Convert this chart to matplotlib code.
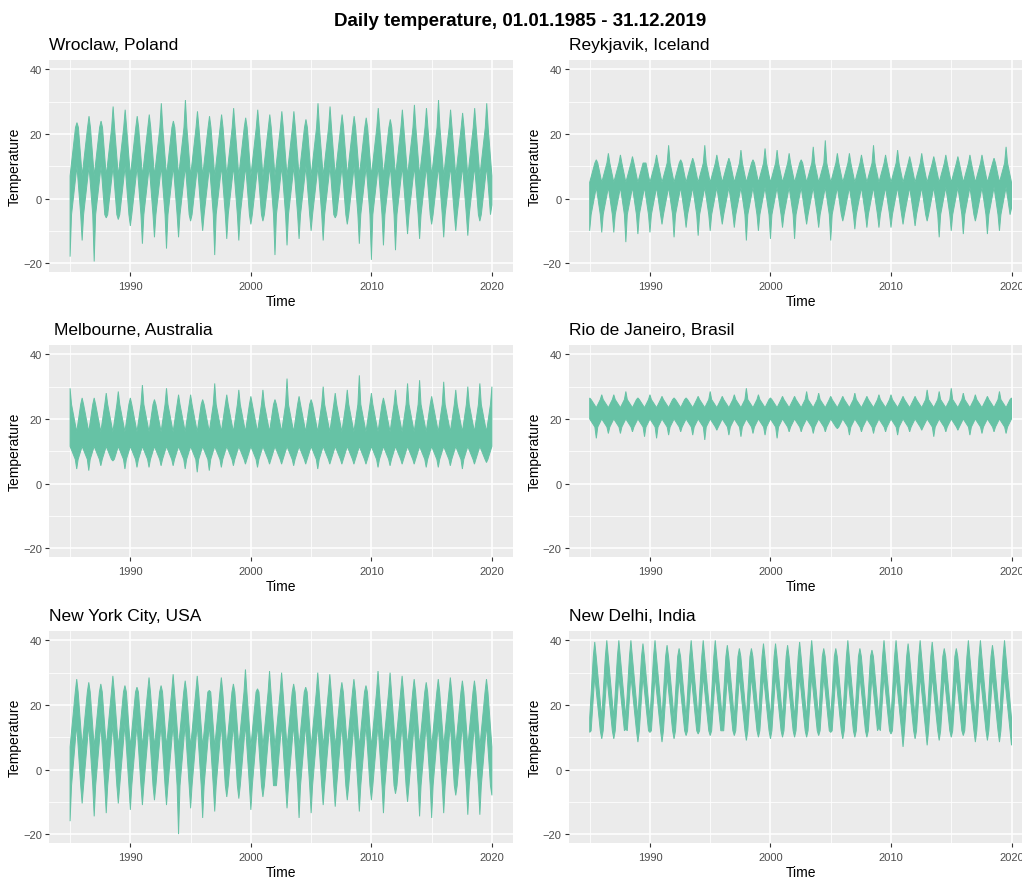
import numpy as np
import matplotlib.pyplot as plt

# DATOS (extremos de cada año y niveles típicos)
years = np.arange(1985, 2020)
end_year = 2020

# Wroclaw: máximo de verano (35) y mínimo de invierno (enero de 1985..2020)
wroclaw_summer_max = [23.5, 25.5, 24, 28.5, 27.5, 25.5, 26, 29.5, 24, 30.5,
                      27, 25.5, 26, 28, 25, 27.5, 26, 27, 27, 24.5,
                      29.5, 28.5, 26, 25.5, 25, 28, 24.5, 27.5, 29, 28,
                      30.5, 27.5, 26.5, 28, 29.5]
wroclaw_winter_min = [-18, -13, -19.5, -6, -6.5, -8.5, -14, -12, -15.5, -12,
                      -7, -10, -17.5, -12.5, -13, -8, -7, -17.5, -14.5, -12.5,
                      -10, -13, -6, -8, -14, -19, -14.5, -16, -11, -12.5,
                      -8, -12, -10, -11.5, -7, -2]
# niveles típicos: [techo invierno, suelo invierno, techo verano, suelo verano]
wroclaw_levels = [7, -5, 22, 10]

reykjavik_summer_max = [12, 14, 13.5, 13, 11, 13.5, 16.5, 12, 12.5, 16.5,
                        13.5, 12.5, 15, 12, 15.5, 15, 14, 12, 16, 18,
                        14, 14, 13.5, 16.5, 13.5, 15, 13, 14, 13, 13.5,
                        13, 13.5, 13.5, 12.5, 16]
reykjavik_winter_min = [-10, -10.5, -10.5, -13.5, -11, -10.5, -8, -12, -9, -11.5,
                        -10, -8, -9, -13, -10, -12.5, -9, -12.5, -8, -9,
                        -13, -7, -9.5, -9, -9, -9, -8, -8.5, -7, -12,
                        -10, -11, -7, -11, -10, -3]
reykjavik_levels = [5, -5, 11, 3.5]

# Hemisferio sur: verano en enero
melbourne_summer_max = [29.5, 26.5, 26.5, 28, 28.5, 26.5, 30.5, 26, 29.5, 27.5,
                        27.5, 26, 31, 27.5, 29, 27, 29, 26, 32.5, 27,
                        26, 30, 28, 29, 33.5, 28, 26.5, 29, 31, 32,
                        27, 31.5, 29, 30, 31, 30]
melbourne_winter_min = [4.5, 4, 5.5, 7, 4.5, 5, 5, 5.5, 5.5, 4.5,
                        3.5, 4, 5, 5.5, 6, 5, 6, 6, 5.5, 6,
                        4.5, 6, 6, 6, 6, 5, 5.5, 6, 6, 5,
                        5, 5.5, 4.5, 6, 6.5]
melbourne_levels = [16, 7.5, 24.5, 11.5]

rio_summer_max = [26.5, 27.5, 27.5, 28.5, 26.5, 27.5, 27, 26.5, 26.5, 27,
                  28.5, 27, 27.5, 29.5, 27.5, 26.5, 27, 27, 28.5, 28,
                  27, 27, 28, 27, 27.5, 27.5, 27, 27, 29, 28.5,
                  29.5, 28, 27.5, 27, 28.5, 26.5]
rio_winter_min = [14, 15.5, 15.5, 16, 14.5, 14, 15, 16, 15, 13.5,
                  16.5, 15, 14.5, 15.5, 15, 14, 16, 16, 15.5, 16,
                  17, 15, 16, 15.5, 16, 15, 16, 16.5, 14.5, 16,
                  16.5, 15, 15.5, 16, 15.5]
rio_levels = [23.5, 17.5, 26, 20]

nyc_summer_max = [28, 27, 26.5, 29, 26, 25.5, 28.5, 26, 29.5, 27.5,
                  29, 24.5, 28.5, 26.5, 31, 25, 30.5, 30, 26.5, 25.5,
                  30, 29.5, 27, 28, 26, 30.5, 30, 29, 28, 27,
                  28, 28.5, 27.5, 27.5, 28]
nyc_winter_min = [-16, -10.5, -14.5, -13.5, -10.5, -12.5, -11, -9.5, -11, -20,
                  -12, -15, -13, -8.5, -9, -12.5, -8.5, -5, -12, -15,
                  -13.5, -11, -11.5, -9.5, -13, -9.5, -13.5, -7.5, -10, -14.5,
                  -15, -13.5, -8, -14, -14, -8]
nyc_levels = [7, -5, 24, 14]

delhi_summer_max = [39.5, 40, 40, 40, 39, 40, 38.5, 37.5, 40, 40,
                    40, 38.5, 37.5, 37.5, 39, 39, 38.5, 39.5, 40, 37.5,
                    37.5, 40, 37.5, 37, 40, 40, 39, 40, 39.5, 37.5,
                    37.5, 40, 40, 38.5, 40]
delhi_winter_min = [11.5, 9.5, 9.5, 12.5, 8.5, 11.5, 8.5, 9.5, 10.5, 11,
                    10.5, 12, 10.5, 9, 10, 9.5, 10, 10, 10, 10.5,
                    11.5, 9.5, 10, 10, 13, 11, 7, 9.5, 7.5, 9,
                    10, 10.5, 8.5, 9, 8.5, 7.5]
delhi_levels = [16, 12, 35, 29]

titles = ["Wroclaw, Poland", "Reykjavik, Iceland", "Melbourne, Australia",
          "Rio de Janeiro, Brasil", "New York City, USA", "New Delhi, India"]
summer_max = [wroclaw_summer_max, reykjavik_summer_max, melbourne_summer_max,
              rio_summer_max, nyc_summer_max, delhi_summer_max]
winter_min = [wroclaw_winter_min, reykjavik_winter_min, melbourne_winter_min,
              rio_winter_min, nyc_winter_min, delhi_winter_min]
levels = [wroclaw_levels, reykjavik_levels, melbourne_levels,
          rio_levels, nyc_levels, delhi_levels]
south = [False, False, True, True, False, False]
mid_pos = [0.57, 0.55, 0.55, 0.55, 0.55, 0.42]

VERDE = '#66C2A5'
W, H = 1022, 879
D = 0.12  # medio ancho de los picos (años)

plt.rcParams['font.family'] = ['Liberation Sans', 'DejaVu Sans']


def envolvente(edge_vals, mid_vals, body, pico_en_borde, pos):
    # borde = 1 de enero de cada año, medio = año + pos
    edges = np.append(years, end_year)
    edge_vals = np.broadcast_to(np.asarray(edge_vals, float), edges.shape)
    mid_vals = np.broadcast_to(np.asarray(mid_vals, float), years.shape)
    pts = []
    for t, v in zip(edges, edge_vals):
        if pico_en_borde:
            pts += [(t - D, body), (t, v), (t + D, body)]
        else:
            pts.append((t, v))
    for t, v in zip(years + pos, mid_vals):
        if pico_en_borde:
            pts.append((t, v))
        else:
            pts += [(t - D, body), (t, v), (t + D, body)]
    pts = sorted(p for p in pts if years[0] <= p[0] <= end_year)
    pts = np.array(pts)
    return pts[:, 0], pts[:, 1]


fig = plt.figure(figsize=(W / 100, H / 100), dpi=100)

col_left = [49, 568.6]
row_top = [61, 346, 632]
ancho, alto = 464, 211.5

for i, nombre in enumerate(titles):
    fila, col = divmod(i, 2)
    l = col_left[col]
    t0 = row_top[fila]
    ax = fig.add_axes([l / W, 1 - (t0 + alto) / H, ancho / W, alto / H])
    ax.set_facecolor('#EBEBEB')

    w_top, w_low, s_top, s_floor = levels[i]
    pos = mid_pos[i]
    if south[i]:
        tu, vu = envolvente(summer_max[i], w_top, s_top, True, pos)
        tl, vl = envolvente(s_floor, winter_min[i], w_low, False, pos)
    else:
        tu, vu = envolvente(w_top, summer_max[i], s_top, False, pos)
        tl, vl = envolvente(winter_min[i], s_floor, w_low, True, pos)
    ax.fill(np.r_[tu, tl[::-1]], np.r_[vu, vl[::-1]], facecolor=VERDE,
            edgecolor=VERDE, linewidth=0.7, zorder=3)

    ax.set_xlim(1983.25, 2021.75)
    ax.set_ylim(-22.6, 42.9)
    ax.set_xticks([1990, 2000, 2010, 2020])
    ax.set_xticks([1985, 1995, 2005, 2015], minor=True)
    ax.set_yticks([-20, 0, 20, 40])
    ax.set_yticks([-10, 10, 30], minor=True)
    ax.grid(which='major', color='white', linewidth=1.1, zorder=1)
    ax.grid(which='minor', color='white', linewidth=0.55, zorder=1)
    ax.set_axisbelow(True)
    for s in ax.spines.values():
        s.set_visible(False)
    ax.tick_params(which='major', length=2.8, width=0.8, color='#333333',
                   labelsize=8, labelcolor='#4D4D4D', pad=2.2)
    ax.tick_params(axis='x', which='major', pad=3.8)
    ax.tick_params(which='minor', length=0)
    ax.set_xlabel("Time", fontsize=10, labelpad=2.5)
    ax.set_ylabel("Temperature", fontsize=10, labelpad=1)

    dx = 5 if nombre.startswith("Melbourne") else 0
    fig.text((l + dx) / W, 1 - (t0 - 11) / H, nombre, fontsize=12.5,
             ha='left', va='baseline')

fig.text(520 / W, 1 - 26 / H, "Daily temperature, 01.01.1985 - 31.12.2019",
         fontsize=13.5, fontweight='bold', ha='center', va='baseline')

plt.savefig("out.png", dpi=100)
